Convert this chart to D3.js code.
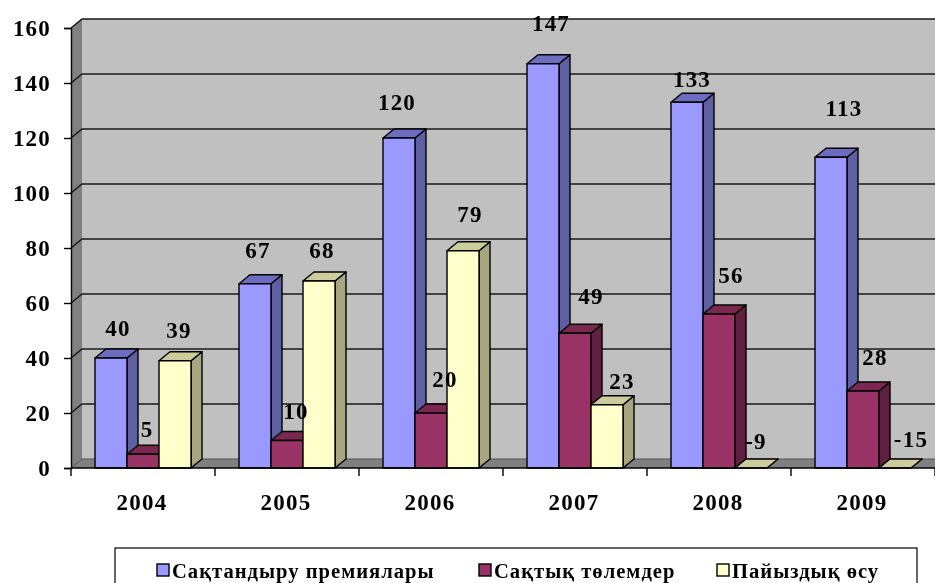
<!DOCTYPE html>
<html>
<head>
<meta charset="utf-8">
<script src="https://cdn.jsdelivr.net/npm/d3@7"></script>
<style>
  html, body { margin: 0; padding: 0; background: #fff; overflow: hidden; }
  svg { display: block; filter: blur(0.4px); }
  text { font-family: "Liberation Serif", serif; font-weight: bold; fill: #000; }
</style>
</head>
<body>
<svg width="935" height="583"></svg>
<script>
const years = ["2004", "2005", "2006", "2007", "2008", "2009"];
const seriesNames = ["Сақтандыру премиялары", "Сақтық төлемдер", "Пайыздық өсу"];
const premiums = [40, 67, 120, 147, 133, 113];
const payments = [5, 10, 20, 49, 56, 28];
const growth = [39, 68, 79, 23, -9, -15];
const yTicks = [0, 20, 40, 60, 80, 100, 120, 140, 160];

const seriesValues = [premiums, payments, growth];

// front, side, top of each series
const seriesColors = [
  ["#9999ff", "#5f5fa6", "#6c6cc0"],
  ["#993366", "#602040", "#7a2850"],
  ["#ffffcc", "#a6a680", "#cccc9c"]
];

// the data labels were hand placed in the original, offset from the bar's top centre
const labelDx = [
  [7, 4, 4],
  [3, 9, 3],
  [-2, 14, 7],
  [8, 16, 15],
  [5, 12, 5],
  [13, 12, 16]
];
const labelDy = [
  [-30, -25, -31],
  [-34, -30, -31],
  [-36, -34, -37],
  [-41, -37, -24],
  [-23, -39, -27],
  [-49, -34, -29]
];

const width = 935;
const height = 583;
const depthX = 11;
const depthY = 9;
const margin = { top: 28, left: 71, bottom: 115 };

const svg = d3.select("svg");

const xScale = d3
  .scaleBand()
  .domain(years)
  .range([margin.left, margin.left + 144 * years.length])
  .paddingInner(1 / 3)
  .paddingOuter(1 / 6);
const seriesScale = d3
  .scaleBand()
  .domain(d3.range(seriesNames.length))
  .range([0, xScale.bandwidth()]);
const yScale = d3
  .scaleLinear()
  .domain([0, 160])
  .range([height - margin.bottom, margin.top]);

const y0 = yScale(0);
const yTop = yScale(160);

function poly(points, fill) {
  svg
    .append("polygon")
    .attr("points", points.map(p => p.join(",")).join(" "))
    .attr("fill", fill)
    .attr("stroke", "none");
}

// walls
poly(
  [
    [margin.left, yTop],
    [margin.left + depthX, yTop - depthY],
    [margin.left + depthX, y0 - depthY],
    [margin.left, y0]
  ],
  "#808080"
);
poly(
  [
    [margin.left + depthX, yTop - depthY],
    [width, yTop - depthY],
    [width, y0 - depthY],
    [margin.left + depthX, y0 - depthY]
  ],
  "#c0c0c0"
);
poly(
  [
    [margin.left, y0],
    [margin.left + depthX, y0 - depthY],
    [width, y0 - depthY],
    [width, y0]
  ],
  "#808080"
);

// gridlines on the back wall and left wall
yTicks.forEach(t => {
  const y = yScale(t);
  svg
    .append("polyline")
    .attr(
      "points",
      `${margin.left},${y} ${margin.left + depthX},${y - depthY} ${width},${y - depthY}`
    )
    .attr("fill", "none")
    .attr("stroke", t === 0 ? "#555" : "#1a1a1a")
    .attr("stroke-width", t === 0 ? 1 : 1.6);
});

// bars
years.forEach((year, i) => {
  seriesValues.forEach((values, s) => {
    const x = xScale(year) + seriesScale(s);
    const w = seriesScale.bandwidth();
    const y = yScale(Math.max(values[i], 0));
    const g = svg
      .append("g")
      .attr("stroke", "#000")
      .attr("stroke-width", 1.4)
      .attr("stroke-linejoin", "round");
    const colors = seriesColors[s];
    g.append("polygon")
      .attr(
        "points",
        `${x + w},${y} ${x + w + depthX},${y - depthY} ${x + w + depthX},${y0 - depthY} ${x + w},${y0}`
      )
      .attr("fill", colors[1]);
    g.append("polygon")
      .attr(
        "points",
        `${x},${y} ${x + depthX},${y - depthY} ${x + w + depthX},${y - depthY} ${x + w},${y}`
      )
      .attr("fill", colors[2]);
    g.append("rect")
      .attr("x", x)
      .attr("y", y)
      .attr("width", w)
      .attr("height", y0 - y)
      .attr("fill", colors[0]);
  });
});

// axes
const yAxis = d3
  .axisLeft(yScale)
  .tickValues(yTicks)
  .tickSize(7)
  .tickPadding(13);
const yAxisG = svg
  .append("g")
  .attr("transform", `translate(${margin.left}, 0)`)
  .call(yAxis);

const xAxis = d3
  .axisBottom(xScale)
  .tickSize(0)
  .tickPadding(26);
const xAxisG = svg
  .append("g")
  .attr("transform", `translate(-1, ${y0})`)
  .call(xAxis);
xAxisG.select(".domain").remove();

svg
  .append("line")
  .attr("x1", margin.left)
  .attr("x2", width)
  .attr("y1", y0)
  .attr("y2", y0)
  .attr("stroke", "#000")
  .attr("stroke-width", 1.4);
d3.range(years.length + 1).forEach(i => {
  const x = margin.left + xScale.step() * i;
  svg
    .append("line")
    .attr("x1", x)
    .attr("x2", x)
    .attr("y1", y0)
    .attr("y2", y0 + 8)
    .attr("stroke", "#000")
    .attr("stroke-width", 1.4);
});

yAxisG.selectAll("line, path").attr("stroke", "#000").attr("stroke-width", 1.4);
svg
  .selectAll(".tick text")
  .attr("font-size", 23)
  .style("font-family", '"Liberation Serif", serif')
  .style("font-weight", "bold")
  .style("letter-spacing", "1.2px")
  .attr("fill", "#000");

// data labels
years.forEach((year, i) => {
  seriesValues.forEach((values, s) => {
    const x = xScale(year) + seriesScale(s) + seriesScale.bandwidth() / 2;
    const y = yScale(Math.max(values[i], 0));
    svg
      .append("text")
      .attr("x", x + labelDx[i][s])
      .attr("y", y + labelDy[i][s])
      .attr("dy", "0.35em")
      .attr("text-anchor", "middle")
      .attr("font-size", 23)
      .style("letter-spacing", "1.2px")
      .text(values[i]);
  });
});

// legend, cut off by the bottom of the picture as in the original
svg
  .append("rect")
  .attr("x", 115)
  .attr("y", 548)
  .attr("width", 802)
  .attr("height", 60)
  .attr("fill", "#fff")
  .attr("stroke", "#000")
  .attr("stroke-width", 1.2);
const legendX = [157, 479, 717];
seriesNames.forEach((name, s) => {
  svg
    .append("rect")
    .attr("x", legendX[s])
    .attr("y", 564)
    .attr("width", 12)
    .attr("height", 12)
    .attr("fill", seriesColors[s][0])
    .attr("stroke", "#000")
    .attr("stroke-width", 1.4);
  svg
    .append("text")
    .attr("x", legendX[s] + 15)
    .attr("y", 571)
    .attr("dy", "0.35em")
    .attr("font-size", 20.6)
    .style("letter-spacing", "1px")
    .text(name);
});
</script>
</body>
</html>
